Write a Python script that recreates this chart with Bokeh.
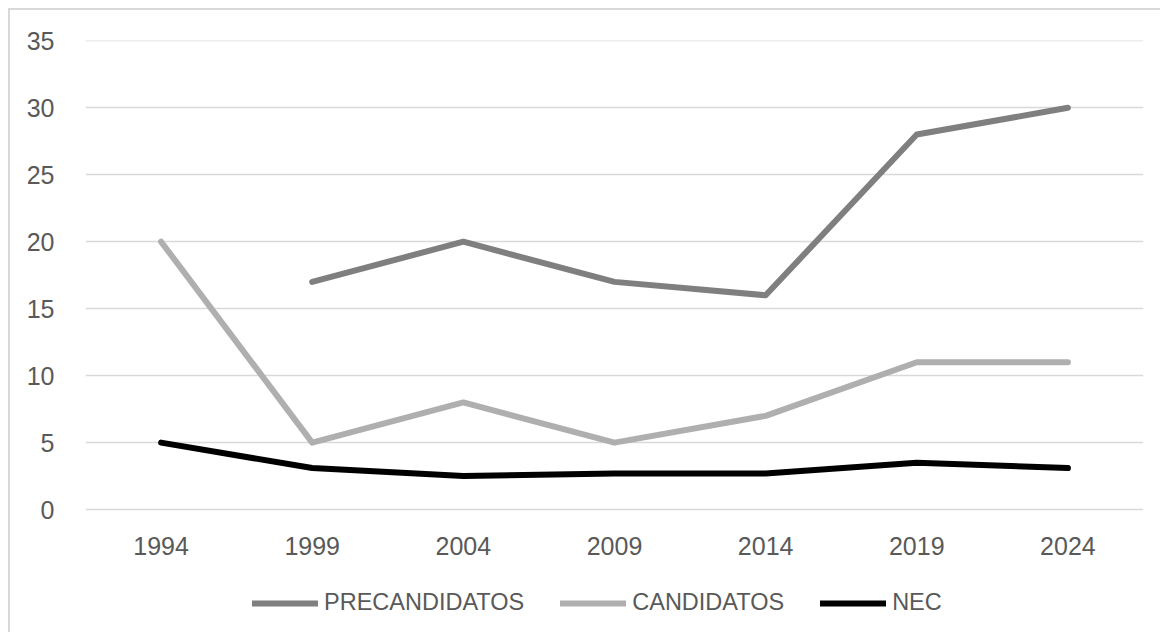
import numpy as np
from bokeh.plotting import figure
from bokeh.models import Range1d, Legend, LegendItem, FixedTicker
from bokeh.embed import file_html
from bokeh.resources import INLINE

years = ["1994", "1999", "2004", "2009", "2014", "2019", "2024"]
precandidatos = [np.nan, 17, 20, 17, 16, 28, 30]
candidatos = [20, 5, 8, 5, 7, 11, 11]
nec = [5, 3.1, 2.5, 2.7, 2.7, 3.5, 3.1]
y_ticks = [0, 5, 10, 15, 20, 25, 30, 35]
series_names = ["PRECANDIDATOS", "CANDIDATOS", "NEC"]
series_colors = ["#7f7f7f", "#afafaf", "#000000"]

FONT = "Liberation Sans"
TXT = "#595959"

# frame extends below the zero line so the legend can sit inside it
p = figure(frame_width=1058, frame_height=591, x_range=years,
           y_range=Range1d(-9.1, 35.02),
           output_backend="svg", toolbar_location=None,
           min_border_left=75, min_border_right=17, min_border_top=30,
           min_border_bottom=1)
p.styles = {"margin-left": "8px", "margin-top": "8px",
            "border-left": "2px solid #d9d9d9", "border-top": "2px solid #d9d9d9"}
p.outline_line_color = None
p.background_fill_color = "white"
p.border_fill_color = "white"

renderers = []
for vals, col in zip([precandidatos, candidatos, nec], series_colors):
    r = p.line(years, vals, line_color=col, line_width=6,
               line_cap="round", line_join="round")
    renderers.append(r)

p.xgrid.grid_line_color = None
p.ygrid.grid_line_color = "#d9d9d9"
p.ygrid.grid_line_width = 1.5
p.yaxis.ticker = FixedTicker(ticks=y_ticks)

for ax in [p.xaxis[0], p.yaxis[0]]:
    ax.axis_line_color = None
    ax.major_tick_line_color = None
    ax.minor_tick_line_color = None
    ax.major_label_text_font = FONT
    ax.major_label_text_font_size = "25px"
    ax.major_label_text_color = TXT
p.yaxis.major_label_standoff = 25
p.xaxis.major_label_standoff = 21
p.xaxis.fixed_location = 0

items = [LegendItem(label=n, renderers=[r]) for n, r in zip(series_names, renderers)]
legend = Legend(items=items, orientation="horizontal", location=(167, 15),
                glyph_width=66, glyph_height=24, label_standoff=6, spacing=36,
                padding=0, margin=0, border_line_color=None,
                background_fill_alpha=0, label_text_font=FONT,
                label_text_font_size="23.5px", label_text_color=TXT)
p.add_layout(legend, "center")

open("out.html", "w").write(file_html(p, INLINE))
